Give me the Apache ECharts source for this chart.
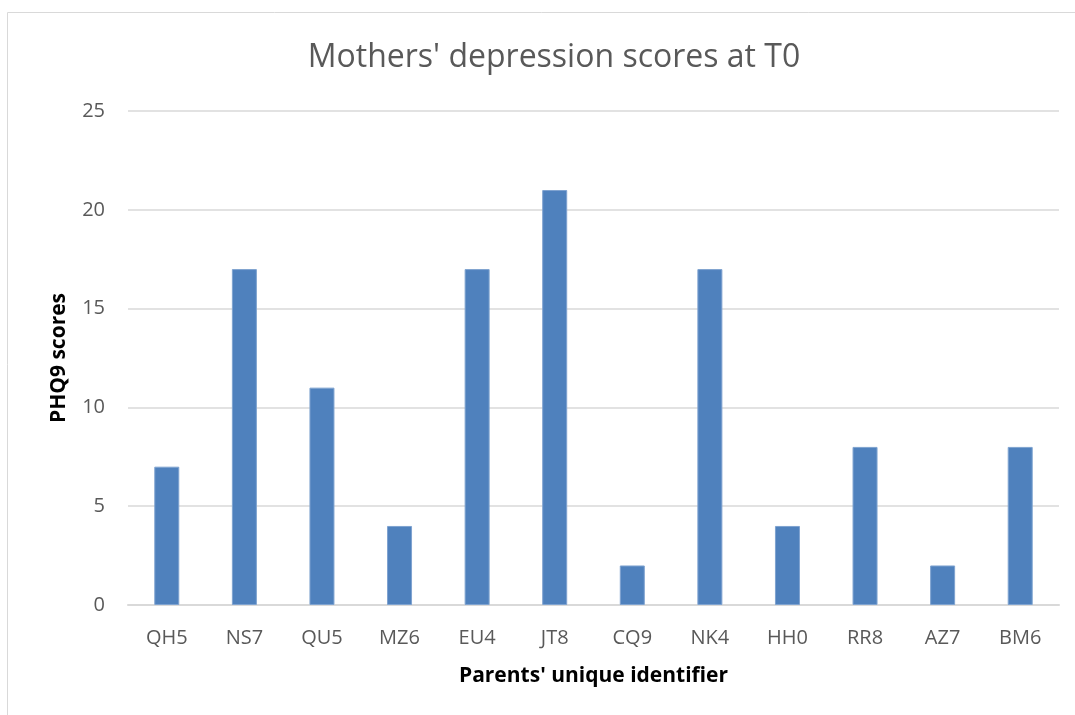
<!DOCTYPE html>
<html>
<head>
<meta charset="utf-8">
<script src="https://cdn.jsdelivr.net/npm/echarts@6/dist/echarts.min.js"></script>
<style>
  html, body { margin: 0; padding: 0; background: #fff; }
  #chart { width: 1075px; height: 715px; }
</style>
</head>
<body>
<div id="chart"></div>
<script>
// parents' identifiers and their PHQ9 scores at T0
var parents = ['QH5', 'NS7', 'QU5', 'MZ6', 'EU4', 'JT8', 'CQ9', 'NK4', 'HH0', 'RR8', 'AZ7', 'BM6'];
var phq9Scores = [7, 17, 11, 4, 17, 21, 2, 17, 4, 8, 2, 8];

var chart = echarts.init(document.getElementById('chart'));
var fontFamily = '"Open Sans", "Noto Sans", sans-serif';

chart.setOption({
    animation: false,
    textStyle: { fontFamily: fontFamily },
    graphic: [{
        type: 'rect',
        shape: { x: 7.5, y: 12.5, width: 1100, height: 750 },
        style: { fill: 'none', stroke: '#d9d9d9', lineWidth: 1 }
    }],
    title: {
        text: "Mothers' depression scores at T0",
        left: 549,
        textAlign: 'center',
        top: 37,
        textStyle: { color: '#595959', fontSize: 32, fontWeight: 'normal', fontFamily: fontFamily }
    },
    grid: { left: 128, right: 16, top: 111, bottom: 110 },
    xAxis: {
        type: 'category',
        data: parents,
        name: "Parents' unique identifier",
        nameLocation: 'middle',
        nameGap: 61,
        nameTextStyle: { color: '#000', fontSize: 21, fontWeight: 'bold', fontFamily: fontFamily },
        axisLine: { lineStyle: { color: '#d9d9d9', width: 2 } },
        axisTick: { show: false },
        axisLabel: { color: '#595959', fontSize: 20, margin: 23 }
    },
    yAxis: {
        type: 'value',
        min: 0,
        max: 25,
        interval: 5,
        name: 'PHQ9 scores',
        nameLocation: 'middle',
        nameGap: 58,
        nameTextStyle: { color: '#000', fontSize: 21, fontWeight: 'bold', fontFamily: fontFamily },
        axisLine: { show: false },
        axisTick: { show: false },
        axisLabel: { color: '#595959', fontSize: 20, margin: 23 },
        splitLine: { lineStyle: { color: '#d9d9d9', width: 1.5 } }
    },
    series: [{
        type: 'bar',
        data: phq9Scores,
        barWidth: 25,
        itemStyle: { color: '#4f81bd', borderColor: '#7fa3d0', borderWidth: 1 }
    }]
});
</script>
</body>
</html>
